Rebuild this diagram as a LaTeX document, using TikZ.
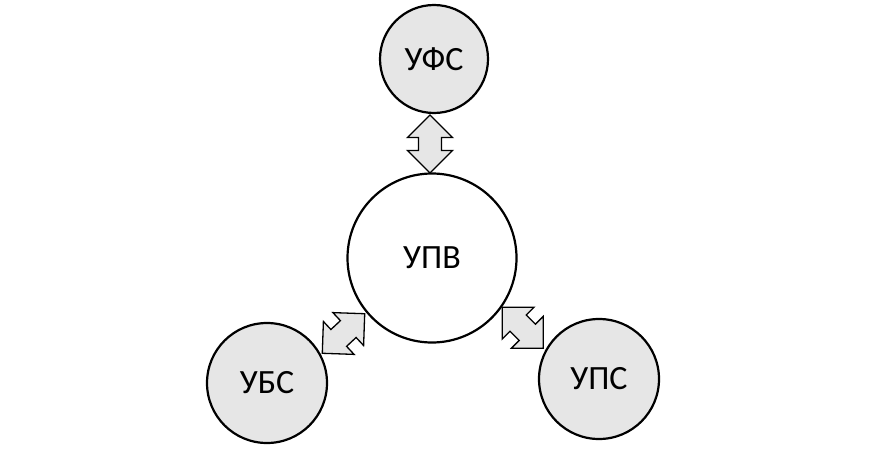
\documentclass[tikz,border=0pt]{standalone}
\usepackage{fontspec}
\setmainfont{Carlito}
\definecolor{fillgray}{RGB}{230,230,230}
\begin{document}
\begin{tikzpicture}[x=1pt,y=1pt,
  unit/.style={circle,draw=black,line width=2.2pt,fill=fillgray,inner sep=0pt,
    font=\fontsize{34}{38}\selectfont},
  biarrow/.pic={
    \draw[black,line width=1.3pt,fill=fillgray,line join=miter]
      (29,0) -- (6.5,22.5) -- (6.5,11.5) -- (-6.5,11.5) -- (-6.5,22.5) -- (-29,0)
      -- (-6.5,-22.5) -- (-6.5,-11.5) -- (6.5,-11.5) -- (6.5,-22.5) -- cycle;
  }]
\useasboundingbox (0,0) rectangle (869,448);
\node[unit,minimum size=108pt] (UFS) at (434,389) {УФС};
\node[unit,fill=white,minimum size=169pt] (UPV) at (432,190) {УПВ};
\node[unit,minimum size=120pt] (UBS) at (267,65) {УБС};
\node[unit,minimum size=120pt] (UPS) at (599,69) {УПС};
\coordinate (aTop) at (430,304);
\coordinate (aLeft) at (343.5,114.5);
\coordinate (aRight) at (522.7,120.3);
\pic[rotate=90] at (aTop) {biarrow};
\pic[rotate=43] at (aLeft) {biarrow};
\pic[rotate=-45] at (aRight) {biarrow};
\end{tikzpicture}
\end{document}
